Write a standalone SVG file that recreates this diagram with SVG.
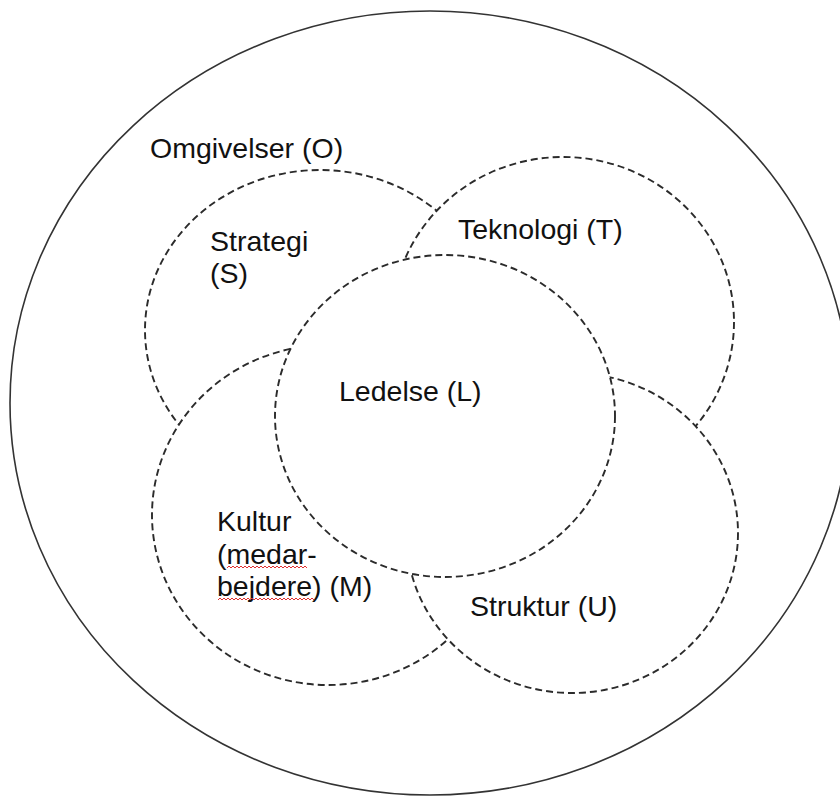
<svg xmlns="http://www.w3.org/2000/svg" width="840" height="797" viewBox="0 0 840 797">
<style>
.outer{fill:#fff;stroke:#333;stroke-width:1.6}
.set{fill:#fff;stroke:#2b2b2b;stroke-width:1.9;stroke-dasharray:7 4}
.lbl{font-family:"Liberation Sans",Arial,sans-serif;font-size:28.5px;fill:#111}
.sq{fill:none;stroke:#e03030;stroke-width:1}
</style>
<rect width="840" height="797" fill="#fff"/>
<g id="omgivelser">
<ellipse class="outer" cx="430" cy="403" rx="420" ry="392"/>
<text class="lbl" x="150" y="158">Omgivelser (O)</text>
</g>
<g id="strategi">
<ellipse class="set" cx="320" cy="330" rx="175" ry="160"/>
<text class="lbl" x="210" y="251">Strategi</text>
<text class="lbl" x="210" y="283">(S)</text>
</g>
<g id="teknologi">
<ellipse class="set" cx="563" cy="322" rx="171" ry="165"/>
<text class="lbl" x="458" y="239">Teknologi (T)</text>
</g>
<g id="kultur">
<ellipse class="set" cx="328" cy="515" rx="176" ry="170"/>
<text class="lbl" x="217" y="531">Kultur</text>
<text class="lbl" x="217" y="564">(medar-</text>
<text class="lbl" x="217" y="596">bejdere) (M)</text>
<path class="sq" d="M227 568 l2 -2 l2 2 l2 -2 l2 2 l2 -2 l2 2 l2 -2 l2 2 l2 -2 l2 2 l2 -2 l2 2 l2 -2 l2 2 l2 -2 l2 2 l2 -2 l2 2 l2 -2 l2 2 l2 -2 l2 2 l2 -2 l2 2 l2 -2 l2 2 l2 -2 l2 2 l2 -2 l2 2 l2 -2 l2 2 l2 -2 l2 2 l2 -2 l2 2 l2 -2 l2 2 l2 -2 l2 2"/>
<path class="sq" d="M218 600 l2 -2 l2 2 l2 -2 l2 2 l2 -2 l2 2 l2 -2 l2 2 l2 -2 l2 2 l2 -2 l2 2 l2 -2 l2 2 l2 -2 l2 2 l2 -2 l2 2 l2 -2 l2 2 l2 -2 l2 2 l2 -2 l2 2 l2 -2 l2 2 l2 -2 l2 2 l2 -2 l2 2 l2 -2 l2 2 l2 -2 l2 2 l2 -2 l2 2 l2 -2 l2 2 l2 -2 l2 2 l2 -2 l2 2 l2 -2 l2 2 l2 -2 l2 2 l2 -2 l2 2"/>
</g>
<g id="struktur">
<ellipse class="set" cx="572" cy="533" rx="166" ry="160"/>
<text class="lbl" x="470" y="616">Struktur (U)</text>
</g>
<g id="ledelse">
<ellipse class="set" cx="445" cy="416" rx="170" ry="161"/>
<text class="lbl" x="339" y="401">Ledelse (L)</text>
</g>
<g id="connectors"></g>
</svg>
